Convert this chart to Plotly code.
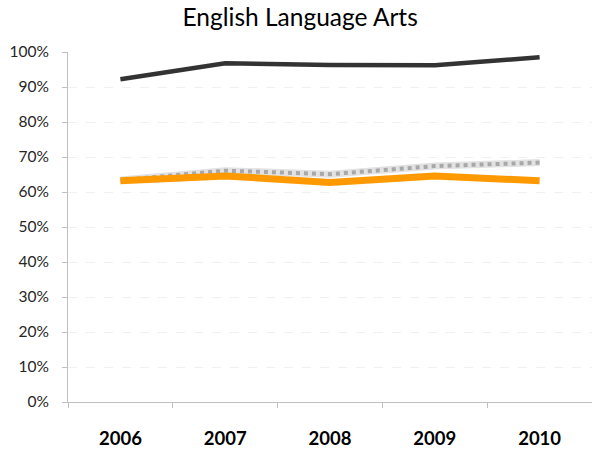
import plotly.graph_objects as go

years = ["2006", "2007", "2008", "2009", "2010"]
black_series = [0.922, 0.968, 0.963, 0.962, 0.985]
gray_series = [0.634, 0.661, 0.651, 0.674, 0.684]
orange_series = [0.632, 0.646, 0.627, 0.646, 0.632]
y_ticks = [0, 0.1, 0.2, 0.3, 0.4, 0.5, 0.6, 0.7, 0.8, 0.9, 1.0]
y_labels = ["0%", "10%", "20%", "30%", "40%", "50%", "60%", "70%", "80%", "90%", "100%"]

FONT = "Lato, Carlito, Calibri, sans-serif"

fig = go.Figure()
fig.add_trace(go.Scatter(x=years, y=black_series, mode="lines",
                         line=dict(color="#333333", width=4.5), showlegend=False))
fig.add_trace(go.Scatter(x=years, y=gray_series, mode="lines",
                         line=dict(color="#e2e2e2", width=7), showlegend=False))
fig.add_trace(go.Scatter(x=years, y=gray_series, mode="lines",
                         line=dict(color="#a8a8a8", width=4, dash="dot"), showlegend=False))
fig.add_trace(go.Scatter(x=years, y=orange_series, mode="lines",
                         line=dict(color="#ff9900", width=7), showlegend=False))

fig.update_layout(
    width=592, height=451,
    margin=dict(l=68, r=0, t=52, b=49, autoexpand=False),
    paper_bgcolor="white", plot_bgcolor="white",
    title=dict(text="English Language Arts", x=0.507, xanchor="center",
               y=0.962, yanchor="middle",
               font=dict(family=FONT, size=24.5, color="#000000")),
    font=dict(family=FONT),
)
fig.update_xaxes(
    type="category", tickson="boundaries", ticks="outside", ticklen=5,
    tickcolor="#bfbfbf", showline=True, linecolor="#bfbfbf", linewidth=1,
    showgrid=False, range=[-0.5, 4.5], automargin=False,
    tickfont=dict(size=18.5, color="#000000", family=FONT, weight="bold"),
    ticklabelstandoff=20,
)
fig.update_yaxes(
    range=[0, 1.0], tickvals=y_ticks, ticktext=y_labels,
    ticks="outside", ticklen=5, tickcolor="#bfbfbf",
    showline=True, linecolor="#bfbfbf", linewidth=1,
    showgrid=True, gridcolor="#f0f0f0", griddash="dash", gridwidth=1,
    zeroline=False, automargin=False,
    tickfont=dict(size=15.5, color="#262626"),
    ticklabelstandoff=10,
)

fig.write_html("out.html", config={"displayModeBar": False},
               post_script="document.body.style.margin='0';document.body.style.overflow='hidden';")
